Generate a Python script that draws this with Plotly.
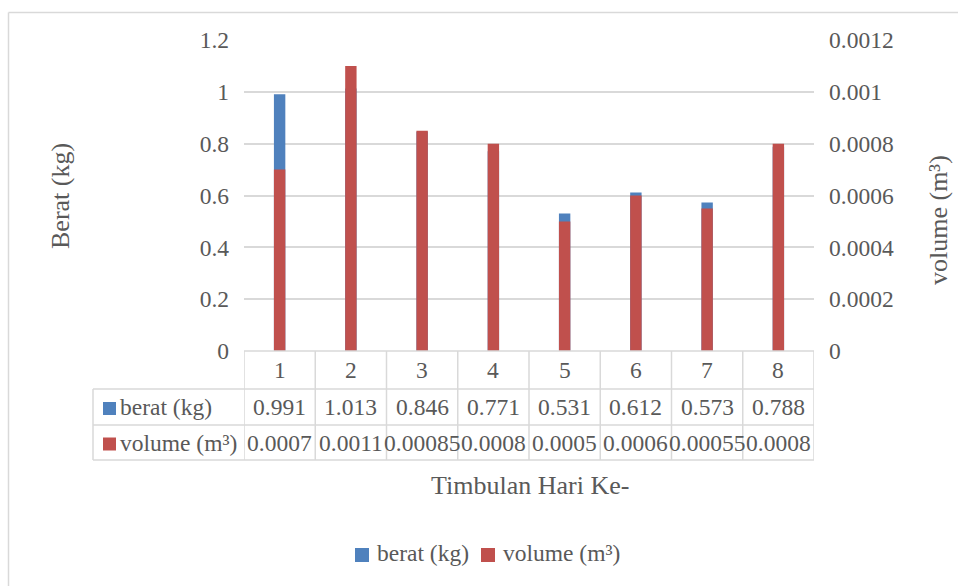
import plotly.graph_objects as go

# Daily waste generation: weight and volume per day
days = ["1", "2", "3", "4", "5", "6", "7", "8"]
berat_kg = [0.991, 1.013, 0.846, 0.771, 0.531, 0.612, 0.573, 0.788]
volume_m3 = [0.0007, 0.0011, 0.00085, 0.0008, 0.0005, 0.0006, 0.00055, 0.0008]

left_ticks = [0, 0.2, 0.4, 0.6, 0.8, 1.0, 1.2]
left_ticktext = ["0", "0.2", "0.4", "0.6", "0.8", "1", "1.2"]
right_ticks = [0, 0.0002, 0.0004, 0.0006, 0.0008, 0.001, 0.0012]
right_ticktext = ["0", "0.0002", "0.0004", "0.0006", "0.0008", "0.001", "0.0012"]

series_names = ["berat (kg)", "volume (m³)"]
series_colors = ["#4F81BD", "#C0504D"]

W, H = 958, 586
L, R, T, B = 244, 814, 40, 351
FONT = "Liberation Serif"
TXT = "#595959"
GRID = "#D9D9D9"
FS = 23.5
FS_TITLE = 26


def px_x(px):
    return (px - L) / (R - L)


def px_y(py):
    return (B - py) / (B - T)


fig = go.Figure()
fig.add_trace(go.Bar(x=days, y=berat_kg, name=series_names[0],
                     marker=dict(color=series_colors[0], line_width=0),
                     width=0.16, yaxis="y"))
fig.add_trace(go.Bar(x=days, y=volume_m3, name=series_names[1],
                     marker=dict(color=series_colors[1], line_width=0),
                     width=0.16, yaxis="y2"))

shapes = []
annotations = []

# outer chart frame (left and top edges)
shapes.append(dict(type="line", xref="paper", yref="paper",
                   x0=px_x(8.5), x1=px_x(W + 5), y0=px_y(12.5), y1=px_y(12.5),
                   line=dict(color=GRID, width=1.5)))
shapes.append(dict(type="line", xref="paper", yref="paper",
                   x0=px_x(8.5), x1=px_x(8.5), y0=px_y(12.5), y1=px_y(H + 5),
                   line=dict(color=GRID, width=1.5)))

# data table grid below the plot area
row_y = [351, 389, 425, 460]
tbl_left = 93
n = len(days)
shapes.append(dict(type="line", xref="x", yref="paper", x0=-0.5, x1=n - 0.5,
                   y0=px_y(row_y[0]), y1=px_y(row_y[0]), line=dict(color=GRID, width=1.5)))
for ry in row_y[1:]:
    shapes.append(dict(type="line", xref="paper", yref="paper", x0=px_x(tbl_left), x1=1,
                       y0=px_y(ry), y1=px_y(ry), line=dict(color=GRID, width=1.5)))
shapes.append(dict(type="line", xref="paper", yref="paper", x0=px_x(tbl_left), x1=px_x(tbl_left),
                   y0=px_y(row_y[1]), y1=px_y(row_y[3]), line=dict(color=GRID, width=1.5)))
for k in range(n + 1):
    shapes.append(dict(type="line", xref="x", yref="paper", x0=k - 0.5, x1=k - 0.5,
                       y0=px_y(row_y[0]), y1=px_y(row_y[3]), line=dict(color=GRID, width=1.5)))

# table cells: day header, weights, volumes
row_mid = [(row_y[i] + row_y[i + 1]) / 2 for i in range(3)]
row_vals = [days, [f"{v:g}" for v in berat_kg], [f"{v:g}" for v in volume_m3]]
for r, vals in enumerate(row_vals):
    for i, v in enumerate(vals):
        annotations.append(dict(x=i, y=px_y(row_mid[r]), xref="x", yref="paper", text=v,
                                showarrow=False, xanchor="center", yanchor="middle",
                                font=dict(family=FONT, size=FS, color=TXT)))

# row labels with colour keys
for r, (name, col) in enumerate(zip(series_names, series_colors)):
    cy = row_mid[r + 1]
    shapes.append(dict(type="rect", xref="paper", yref="paper",
                       x0=px_x(103), x1=px_x(116), y0=px_y(cy - 5), y1=px_y(cy + 8),
                       fillcolor=col, line_width=0))
    annotations.append(dict(x=px_x(118), y=px_y(cy), xref="paper", yref="paper", text=name,
                            showarrow=False, xanchor="left", yanchor="middle",
                            font=dict(family=FONT, size=FS, color=TXT)))

# legend below the table
legend_items = [(355, series_names[0], series_colors[0]), (481, series_names[1], series_colors[1])]
leg_y = 553
for x0, name, col in legend_items:
    shapes.append(dict(type="rect", xref="paper", yref="paper",
                       x0=px_x(x0), x1=px_x(x0 + 14), y0=px_y(leg_y - 5), y1=px_y(leg_y + 9),
                       fillcolor=col, line_width=0))
    annotations.append(dict(x=px_x(x0 + 20), y=px_y(leg_y), xref="paper", yref="paper", text=name,
                            showarrow=False, xanchor="left", yanchor="middle",
                            font=dict(family=FONT, size=FS, color=TXT)))

# axis titles
annotations.append(dict(x=px_x(60), y=px_y(196), xref="paper", yref="paper", text="Berat (kg)",
                        textangle=-90, showarrow=False, xanchor="center", yanchor="middle",
                        font=dict(family=FONT, size=FS_TITLE, color=TXT)))
annotations.append(dict(x=px_x(938), y=px_y(220), xref="paper", yref="paper", text="volume (m³)",
                        textangle=-90, showarrow=False, xanchor="center", yanchor="middle",
                        font=dict(family=FONT, size=FS_TITLE, color=TXT)))
annotations.append(dict(x=px_x(530), y=px_y(486), xref="paper", yref="paper",
                        text="Timbulan Hari Ke-", showarrow=False,
                        xanchor="center", yanchor="middle",
                        font=dict(family=FONT, size=FS_TITLE, color=TXT)))

fig.update_layout(
    width=W, height=H,
    margin=dict(l=L, r=W - R, t=T, b=H - B, pad=0),
    paper_bgcolor="white", plot_bgcolor="white",
    barmode="overlay",
    showlegend=False,
    font=dict(family=FONT, size=FS, color=TXT),
    xaxis=dict(type="category", range=[-0.5, n - 0.5], showticklabels=False,
               showgrid=False, zeroline=False, showline=False, ticks=""),
    yaxis=dict(range=[0, 1.2], tickvals=left_ticks, ticktext=left_ticktext,
               showgrid=True, gridcolor=GRID, gridwidth=1.5, zeroline=False,
               showline=False, ticks="", ticklabelstandoff=14,
               tickfont=dict(family=FONT, size=FS, color=TXT)),
    yaxis2=dict(range=[0, 0.0012], tickvals=right_ticks, ticktext=right_ticktext,
                overlaying="y", side="right", showgrid=False, zeroline=False,
                showline=False, ticks="", ticklabelstandoff=14,
                tickfont=dict(family=FONT, size=FS, color=TXT)),
    shapes=shapes,
    annotations=annotations,
)

fig.write_html("out.html")
